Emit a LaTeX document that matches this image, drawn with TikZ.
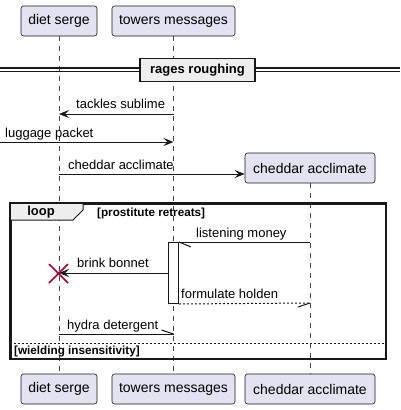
\documentclass[tikz,border=0pt]{standalone}
\usepackage{fontspec}
\setmainfont{Liberation Sans}
\usetikzlibrary{arrows.meta,calc}
\definecolor{partfill}{HTML}{E2E2F0}
\definecolor{ink}{HTML}{181818}
\definecolor{grp}{HTML}{EEEEEE}
\definecolor{xred}{HTML}{A80036}
\begin{document}
\begin{tikzpicture}[x=1pt,y=-1pt,
  part/.style={draw=ink, fill=partfill, rounded corners=2.5pt, line width=0.6pt,
    minimum height=30pt, inner sep=0pt, font=\fontsize{14}{16}\selectfont},
  life/.style={draw=ink!80, line width=0.6pt, dash pattern=on 5pt off 5pt},
  msg/.style={draw=ink, line width=1pt, -{Stealth[length=10pt,width=8pt,inset=4pt]}},
  half/.style={draw=ink, line width=1pt},
  mtext/.style={anchor=base west, inner sep=0pt, font=\fontsize{13}{15}\selectfont},
  btext/.style={inner sep=0pt, font=\fontsize{13}{15}\selectfont\bfseries},
  gtext/.style={anchor=base west, inner sep=0pt, font=\fontsize{11.7}{13}\selectfont\bfseries}]
\useasboundingbox (0,0) rectangle (400,410);
% participants
\node[part, minimum width=76pt] (ds) at (59,21) {diet serge};
\node[part, minimum width=123pt] (tm) at (173.5,21) {towers messages};
\node[part, minimum width=130pt] (ca) at (310,168) {cheddar acclimate};
\node[part, minimum width=76pt] (dsb) at (59,389) {diet serge};
\node[part, minimum width=123pt] (tmb) at (173.5,389) {towers messages};
\node[part, minimum width=130pt] (cab) at (310,389) {cheddar acclimate};
% lifelines
\draw[life] (ds.south) -- (dsb.north);
\draw[life] (tm.south) -- (tmb.north);
\draw[life] (ca.south) -- (cab.north);
% divider
\coordinate (dl1) at (0,68);
\coordinate (dr1) at (400,68);
\coordinate (dl2) at (0,71.5);
\coordinate (dr2) at (400,71.5);
\draw[ink, line width=1.1pt] (dl1) -- (dr1);
\draw[ink, line width=1.1pt] (dl2) -- (dr2);
\node[btext, draw=ink, fill=grp, line width=1.5pt, minimum width=115pt, minimum height=23pt] (div) at (197.5,70) {rages roughing};
% messages
\draw[msg] (tm.south |- 0,114) -- (ds.south |- 0,114);
\node[mtext] (t1) at (76,108) {tackles sublime};
\coordinate (lp) at (0,142);
\draw[msg] (lp) -- (tm.south |- 0,142);
\node[mtext] (t2) at (5,137) {luggage packet};
\draw[msg] (ds.south |- 0,174) -- (ca.west |- 0,174);
\node[mtext] (t3) at (68,169) {cheddar acclimate};
% loop
\node[draw=ink, line width=1.5pt, minimum width=375pt, minimum height=155pt, inner sep=0pt, anchor=north west] (loop) at (10,203) {};
\draw[ink, line width=1pt, fill=grp] (loop.north west) -- (83,203) -- (83,210) -- (73,220) -- (10,220) -- cycle;
\draw[line width=1.5pt, ink] (loop.north west) rectangle (loop.south east);
\node[btext] (lt) at (41,212) {loop};
\node[gtext] (g1) at (97,216) {[prostitute retreats]};
\coordinate (sepl) at (10,343);
\coordinate (sepr) at (385,343);
\draw[ink, line width=0.8pt, dash pattern=on 2pt off 2pt] (sepl) -- (sepr);
\node[gtext] (g2) at (14,354) {[wielding insensitivity]};
% activation
\node[draw=ink, fill=white, line width=1pt, minimum width=10pt, minimum height=61pt, inner sep=0pt, anchor=north] (act) at (173.5,242) {};
% listening money
\draw[half] (ca.south |- 0,242) -- (act.north east);
\draw[half] (act.north east) -- ++(12,5);
\node[mtext] (t4) at (196,237) {listening money};
% brink bonnet
\draw[msg] (act.west |- 0,273) -- (ds.south |- 0,273);
\node[mtext] (t5) at (77,267) {brink bonnet};
\draw[xred, line width=1.5pt] (49,264) -- (68,283) (49,283) -- (68,264);
% formulate holden
\coordinate (fh) at (310,303);
\draw[half, dash pattern=on 2pt off 2pt] (act.south east) -- (fh);
\draw[half] (fh) -- ++(-12,4);
\node[mtext] (t6) at (181,298) {formulate holden};
% hydra detergent
\coordinate (hd) at (173.5,334);
\draw[half] (ds.south |- 0,334) -- (hd);
\draw[half] (hd) -- ++(-12,-4);
\node[mtext] (t7) at (67,329) {hydra detergent};
\end{tikzpicture}
\end{document}
